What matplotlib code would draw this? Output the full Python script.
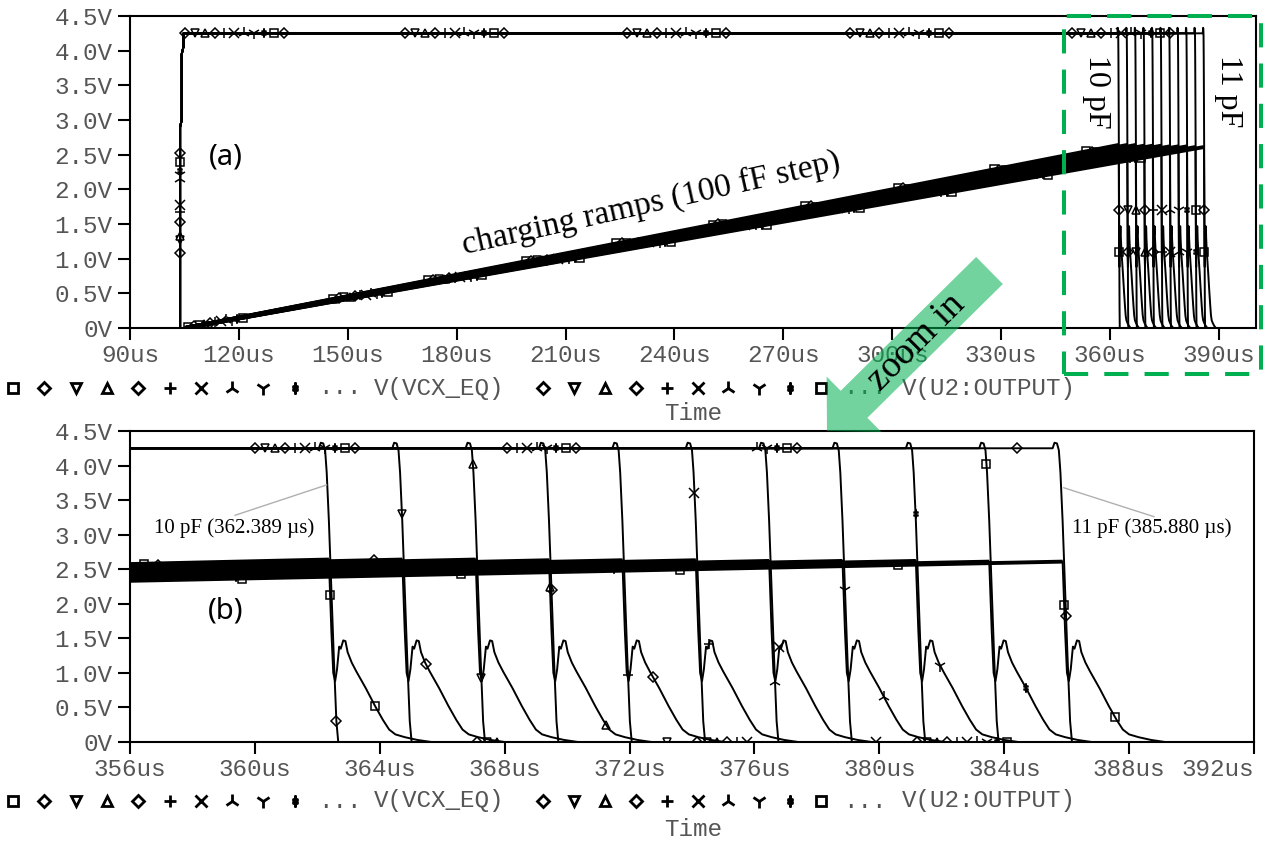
import matplotlib
matplotlib.use("Agg")
import matplotlib.pyplot as plt
from matplotlib.patches import FancyArrow, Rectangle
from matplotlib.lines import Line2D
from matplotlib.transforms import IdentityTransform
import numpy as np

# 11 simulation runs, 10 pF .. 11 pF in 100 fF steps
# time (us) where U2:OUTPUT starts to fall in each run
fall_t = [362.25, 364.6, 366.95, 369.3, 371.65, 374.0, 376.35, 378.7, 381.05, 383.4, 385.75]
# VCX_EQ value at the end of each charging ramp (V)
ramp_end_v = [2.64, 2.64, 2.64, 2.63, 2.63, 2.63, 2.62, 2.62, 2.62, 2.61, 2.61]
ramp_start_t = 105.2
ramp_stop_dt = 0.12
sim_end_t = 390.6

# U2:OUTPUT rising edge at start-up
rise_t = [103.8, 103.8, 104.25, 104.25, 104.7, 104.75]
rise_v = [0.0, 2.9, 3.0, 3.95, 4.05, 4.25]

# U2:OUTPUT falling edge, offsets from fall_t
fall_dt = [-0.2, -0.14, -0.06, 0.0, 0.05, 0.12, 0.2, 0.28, 0.36, 0.42]
fall_v = [4.25, 4.33, 4.32, 4.22, 3.9, 3.2, 2.2, 1.2, 0.3, 0.0]

# VCX_EQ discharge pulse after the comparator flips, offsets from fall_t
pulse_dt = [0.2, 0.26, 0.32, 0.38, 0.45, 0.5, 0.58, 0.65, 0.72, 0.85, 1.0,
            1.3, 1.6, 1.85, 2.05, 2.25, 2.55, 2.95, 3.4]
pulse_v = [1.6, 1.0, 0.88, 1.05, 1.38, 1.35, 1.47, 1.46, 1.3, 1.15, 1.02,
           0.78, 0.52, 0.32, 0.18, 0.11, 0.07, 0.03, 0.0]

dag = r'$\ddagger$'
vcx_sym = ['s', 'D', 'v', '^', 'D', '+', 'x', '2', '1', dag, 's']
out_sym = ['D', 'v', '^', 'D', '+', 'x', '2', '1', dag, 's', 'D']

# marker positions (panel a)
out_grp_a = [105.15, 165.8, 226.9, 288.3, 349.4]
out_step_a = 2.72
rise_mark_v = [1.08, 1.27, 1.32, 1.53, 1.68, 1.78, 2.15, 2.2, 2.27, 2.40, 2.53]
vcx_grp_a = [106.0, 146.0, 172.0, 199.0, 224.0, 250.5, 276.0, 301.5, 328.0, 353.5]
vcx_step_a = 1.5

# marker positions (panel b)
out_grp_b = [360.0, 367.1, 374.15, 381.2]
out_step_b = 0.32
out_edge_dt_b = [0.36, 0.11, 0.03, 0.2, 0.3, 0.08, 0.31, 0.2, 0.11, 0.03, 0.23]
vcx_pulse_dt_b = [[0.16, 1.6], [0.87], [0.3], [0.15, 1.95], [1.1], [0.55],
                  [0.45], [1.45], [0.9], [1.3], [0.17, 1.8]]
vcx_band_t_b = [[356.45], [356.9, 363.8], [373.2], [], [], [], [379.9], [], [],
                [359.4, 371.5], [359.6, 366.6, 373.6, 380.6]]

volt_ticks = [0, 0.5, 1.0, 1.5, 2.0, 2.5, 3.0, 3.5, 4.0, 4.5]
xticks_a = [90, 120, 150, 180, 210, 240, 270, 300, 330, 360, 390]
xticks_b = [356, 360, 364, 368, 372, 376, 380, 384, 388, 392]


def output_trace(k):
    t = rise_t + [fall_t[k] + d for d in fall_dt] + [sim_end_t]
    v = rise_v + fall_v + [0.0]
    return np.array(t), np.array(v)


def vcx_trace(k):
    t = [rise_t[0], ramp_start_t, fall_t[k] + ramp_stop_dt] + \
        [fall_t[k] + d for d in pulse_dt] + [sim_end_t]
    v = [0.0, 0.0, ramp_end_v[k]] + pulse_v + [0.0]
    return np.array(t), np.array(v)


W, H = 1264, 841
fig = plt.figure(figsize=(W / 100, H / 100), dpi=100)
ax_a = fig.add_axes([130 / W, 1 - 328 / H, 1126 / W, 312 / H])
ax_b = fig.add_axes([130 / W, 1 - 742 / H, 1124 / W, 311 / H])

mono = 'Liberation Mono'
gray = '#555555'
tri = ('1', '2')


def mark(ax, t, v, sym, ms=5.5):
    extra = 3.0 if sym in tri else (1.5 if sym in ('+', 'x') else 0)
    ax.plot(t, v, linestyle='none', marker=sym, ms=ms + extra,
            mec='black', mfc='white', mew=1.1, zorder=2, clip_on=True)


for ax in (ax_a, ax_b):
    for k in range(11):
        ot, ov = output_trace(k)
        vt, vv = vcx_trace(k)
        ax.plot(ot, ov, color='black', lw=1.4, zorder=3)
        ax.plot(vt, vv, color='black', lw=1.4, zorder=3)
        # the charging part of VCX_EQ carries ripple, drawn as a heavier stroke
        ax.plot(vt[1:3], vv[1:3], color='black', lw=2.8, zorder=3,
                solid_capstyle='butt')

# markers, panel a
for k in range(11):
    ot, ov = output_trace(k)
    vt, vv = vcx_trace(k)
    tt = np.array([g + k * out_step_a for g in out_grp_a])
    mark(ax_a, tt, np.interp(tt, ot, ov), out_sym[k])
    mark(ax_a, [rise_t[0]], [rise_mark_v[k]], out_sym[k])
    mark(ax_a, [fall_t[k] + 0.24], [np.interp(fall_t[k] + 0.24, ot, ov)], out_sym[k])
    tv = np.array([g + k * vcx_step_a for g in vcx_grp_a])
    mark(ax_a, tv, np.interp(tv, vt, vv), vcx_sym[k])
    mark(ax_a, [fall_t[k] + 0.25], [np.interp(fall_t[k] + 0.25, vt, vv)], vcx_sym[k])

# markers, panel b
for k in range(11):
    ot, ov = output_trace(k)
    vt, vv = vcx_trace(k)
    tt = np.array([g + k * out_step_b for g in out_grp_b])
    mark(ax_b, tt, np.interp(tt, ot, ov), out_sym[k])
    te = fall_t[k] + out_edge_dt_b[k]
    mark(ax_b, [te], [np.interp(te, ot, ov)], out_sym[k])
    tp = np.array([fall_t[k] + d for d in vcx_pulse_dt_b[k]])
    mark(ax_b, tp, np.interp(tp, vt, vv), vcx_sym[k])
    if vcx_band_t_b[k]:
        tb = np.array(vcx_band_t_b[k])
        mark(ax_b, tb, np.interp(tb, vt, vv), vcx_sym[k])


def style(ax, xticks, xlim):
    ax.set_xlim(*xlim)
    ax.set_ylim(0, 4.5)
    ax.set_xticks(xticks)
    ax.set_xticklabels([f'{t}us' for t in xticks])
    ax.set_yticks(volt_ticks)
    ax.set_yticklabels(['0V' if v == 0 else f'{v:.1f}V' for v in volt_ticks])
    ax.tick_params(axis='both', length=8.5, width=1.5, color='black',
                   labelsize=17.5, labelcolor=gray)
    ax.tick_params(axis='x', pad=3)
    ax.tick_params(axis='y', pad=4)
    for lab in ax.get_xticklabels() + ax.get_yticklabels():
        lab.set_fontfamily(mono)
    for s in ax.spines.values():
        s.set_linewidth(1.5)


style(ax_a, xticks_a, (90, 400.2))
style(ax_b, xticks_b, (356, 392))
# last label of the zoomed axis sits flush with the right border
ax_b.get_xticklabels()[-1].set_horizontalalignment('right')


def legend_row(y_px, time_y_px):
    y = 1 - y_px / H
    items = [((13 + 31.3 * i), m) for i, m in enumerate(vcx_sym[:10])] + \
            [((543 + 30.9 * i), m) for i, m in enumerate(out_sym[:10])]
    for x, m in items:
        size = 10.5 if m in tri else (8 if m in ('+', 'x') else 6.5)
        fig.add_artist(Line2D([x / W], [y], transform=fig.transFigure,
                              linestyle='none', marker=m, ms=size,
                              mec='black', mfc='white', mew=2.0))
    for x, s in [(318, '...'), (374, 'V(VCX_EQ)'), (843, '...'), (902, 'V(U2:OUTPUT)')]:
        fig.text(x / W, y, s, family=mono, fontsize=17.5, color=gray,
                 ha='left', va='center')
    fig.text(693 / W, 1 - time_y_px / H, 'Time', family=mono, fontsize=17.5,
             color=gray, ha='center', va='center')


legend_row(388, 414)
legend_row(801, 829)

# annotations
serif = 'Liberation Serif'
ax_a.text(116.4, 2.46, '(a)', family='Noto Sans', fontsize=21, ha='center', va='center')
ax_b.text(359.07, 1.9, '(b)', family='Noto Sans', fontsize=21, ha='center', va='center')
ax_a.text(233.5, 1.8, 'charging ramps (100 fF step)', family=serif, fontsize=24,
          rotation=12.6, rotation_mode='anchor', ha='center', va='center')
ax_a.text(356.3, 3.41, '10 pF', family=serif, fontsize=23, rotation=270,
          rotation_mode='anchor', ha='center', va='center')
ax_a.text(392.7, 3.42, '11 pF', family=serif, fontsize=23, rotation=270,
          rotation_mode='anchor', ha='center', va='center', clip_on=False)

ax_b.annotate('', xy=(362.3, 3.72), xytext=(359.36, 3.28),
              arrowprops=dict(arrowstyle='-', color='#b0b0b0', lw=1.0,
                              shrinkA=0, shrinkB=0))
ax_b.annotate('', xy=(385.9, 3.68), xytext=(388.8, 3.26),
              arrowprops=dict(arrowstyle='-', color='#b0b0b0', lw=1.0,
                              shrinkA=0, shrinkB=0))
ax_b.text(359.33, 3.09, '10 pF (362.389 \u00b5s)', family=serif, fontsize=15,
          ha='center', va='center')
ax_b.text(388.74, 3.09, '11 pF (385.880 \u00b5s)', family=serif, fontsize=15,
          ha='center', va='center')

# green dashed zoom box
box = Rectangle((1064 / W, 1 - 374 / H), (1261 - 1064) / W, (374 - 16) / H,
                transform=fig.transFigure, fill=False, edgecolor='#00B050',
                lw=2.9, linestyle=(0, (6.0, 4.0)), zorder=10)
fig.add_artist(box)

# "zoom in" arrow (pixel coordinates)
arrow = FancyArrow(989.5, H - 270.5, -162.5, -160.5, width=38, head_width=78,
                   head_length=38, length_includes_head=True, color='#00B050',
                   alpha=0.55, lw=0, transform=IdentityTransform(), zorder=11)
fig.add_artist(arrow)
fig.text(917 / W, 1 - 342 / H, 'zoom in', family=serif, fontsize=27, rotation=45,
         rotation_mode='anchor', ha='center', va='center', zorder=12)

fig.savefig('out.png', dpi=100)
